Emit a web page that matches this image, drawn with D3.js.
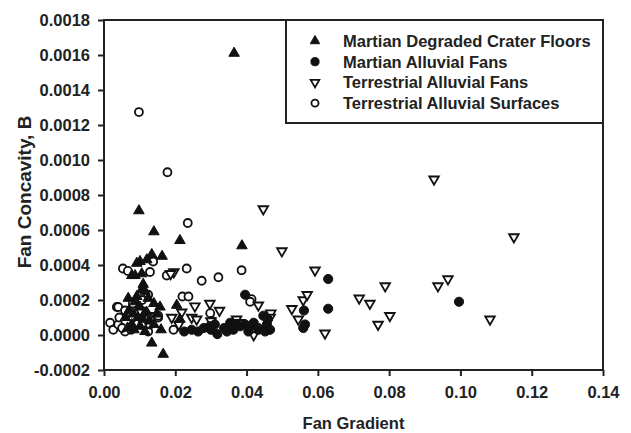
<!DOCTYPE html>
<html>
<head>
<meta charset="utf-8">
<script src="https://cdn.jsdelivr.net/npm/d3@7"></script>
<style>
  body { margin: 0; background: #fff; }
  text { font-family: "Liberation Sans", Arial, sans-serif; font-weight: bold; fill: #222; }
</style>
</head>
<body>
<div id="chart"></div>
<script>
// data: [fan gradient, concavity B]
var craterFloors = [
  [0.0365,0.00161],[0.0098,0.00071],[0.0140,0.00059],[0.0213,0.00054],[0.0387,0.00051],
  [0.0163,0.00045],[0.0134,0.00046],[0.0120,0.00043],[0.0101,0.00042],[0.0092,0.00041],
  [0.0078,0.00034],[0.0087,0.00034],[0.0106,0.00035],[0.0134,-0.000046],[0.0166,-0.00011],
  [0.0204,0.00017],[0.0213,0.00009],
  [0.0110,0.00029],[0.0106,0.00026],[0.0115,0.00025],[0.0092,0.00022],[0.0068,0.00021],
  [0.0124,0.00021],[0.0087,0.00019],[0.0157,0.00016],[0.0140,0.00018],[0.0101,0.00016],
  [0.0070,0.00014],[0.0120,0.00013],[0.0081,0.00012],[0.0148,0.00012],[0.0060,0.00010],
  [0.0095,0.00010],[0.0110,0.00009],[0.0128,0.00008],[0.0078,0.00006],[0.0101,0.00005],
  [0.0140,0.00006],[0.0084,0.00003],[0.0115,0.00002],[0.0066,0.00004],[0.0160,0.00003]
];
var martianFans = [
  [0.0396,0.00023],[0.0629,0.00032],[0.0629,0.00015],[0.0996,0.00019],[0.0561,0.00014],
  [0.0564,0.00006],[0.0559,0.00004],
  [0.0225,0.00002],[0.0246,0.00003],[0.0264,0.00002],[0.0280,0.00004],[0.0297,0.00005],
  [0.0311,0.00006],[0.0318,0.000005],[0.0337,0.00004],[0.0354,0.00007],[0.0363,0.00003],
  [0.0370,0.00006],[0.0382,0.00005],[0.0396,0.00006],[0.0410,0.00005],[0.0433,0.00003],
  [0.0447,0.00011],[0.0457,0.00006],[0.0466,0.00003],[0.0452,0.00002],[0.0300,0.00003],
  [0.0345,0.00002],[0.0405,0.00002],[0.0420,0.00007],[0.0460,0.00009]
];
var terrFans = [
  [0.0447,0.00072],[0.0926,0.00089],[0.1150,0.00056],[0.0499,0.00048],[0.0592,0.00037],
  [0.0196,0.00036],[0.0187,0.00035],[0.0297,0.00018],[0.0324,0.00014],[0.0255,0.000165],
  [0.0218,0.00013],[0.0190,0.00010],[0.0246,0.00010],[0.0260,0.00009],[0.0372,0.00009],
  [0.0382,0.00007],[0.0420,0.00000],[0.0433,0.00017],[0.0468,0.000125],[0.0466,0.00010],
  [0.0527,0.00015],[0.0545,0.00009],[0.0559,0.00020],[0.0570,0.00023],[0.0620,0.00001],
  [0.0716,0.00021],[0.0746,0.00018],[0.0789,0.00028],[0.0769,0.00006],[0.0802,0.00011],
  [0.0937,0.00028],[0.0965,0.00032],[0.1083,0.00009],[0.0101,0.00014],[0.0129,0.00011],
  [0.0210,0.00006],[0.0300,0.00008]
];
var terrSurfaces = [
  [0.0098,0.001274],[0.0178,0.00093],[0.0235,0.00064],[0.0053,0.00038],[0.0067,0.000366],
  [0.0129,0.00036],[0.0138,0.00042],[0.0232,0.00038],[0.0176,0.00034],[0.0274,0.00031],
  [0.0321,0.00033],[0.0386,0.00037],[0.0220,0.00022],[0.0237,0.00022],[0.0414,0.000205],
  [0.0298,0.000125],[0.0195,0.00003],[0.0017,0.00007],[0.0026,0.00003],[0.0040,0.00006],
  [0.0059,0.00002],[0.0036,0.00016],[0.0152,0.00010],[0.0124,0.00002],[0.0433,0.00004],
  [0.0303,0.00008],[0.0410,0.00019],
  [0.0040,0.00016],[0.0059,0.00014],[0.0081,0.00018],[0.0124,0.00023],[0.0107,0.00020],
  [0.0051,0.00004],[0.0076,0.00003],[0.0081,0.00010],[0.0112,0.00013],[0.0129,0.00006],
  [0.0152,0.00011],[0.0098,0.00014],[0.0043,0.00010]
];
var seriesNames = ["Martian Degraded Crater Floors", "Martian Alluvial Fans",
                   "Terrestrial Alluvial Fans", "Terrestrial Alluvial Surfaces"];
var xTicks = [0, 0.02, 0.04, 0.06, 0.08, 0.10, 0.12, 0.14];
var yTicks = [-0.0002, 0, 0.0002, 0.0004, 0.0006, 0.0008, 0.0010, 0.0012, 0.0014, 0.0016, 0.0018];

var W = 631, H = 433;
var margin = {top: 20, right: 28, bottom: 63, left: 104},
    width = W - margin.left - margin.right,
    height = H - margin.top - margin.bottom;

var x = d3.scaleLinear().domain([0, 0.14]).range([0, width]);
var y = d3.scaleLinear().domain([-0.0002, 0.0018]).range([height, 0]);

var svg = d3.select("#chart").append("svg")
    .attr("width", W)
    .attr("height", H)
  .append("g")
    .attr("transform", "translate(" + margin.left + "," + margin.top + ")");

// symbol per series: shape, filled, rotation
var styles = [
  {type: d3.symbolTriangle, size: 48, fill: "#111", rot: 0},
  {type: d3.symbolCircle, size: 66, fill: "#111", rot: 0},
  {type: d3.symbolTriangle, size: 40, fill: "#fff", rot: 180},
  {type: d3.symbolCircle, size: 50, fill: "#fff", rot: 0}
];
var allSeries = [craterFloors, martianFans, terrFans, terrSurfaces];

function drawSymbols(g, data, st) {
  g.selectAll("path")
    .data(data)
    .enter().append("path")
      .attr("d", d3.symbol().type(st.type).size(st.size))
      .attr("transform", function(d) {
        return "translate(" + x(d[0]) + "," + y(d[1]) + ") rotate(" + st.rot + ")";
      })
      .style("fill", st.fill)
      .style("stroke", "#111")
      .style("stroke-width", st.fill == "#fff" ? 1.8 : 1);
}

// draw order: open surfaces under, then fans, floors, martian fans
[3, 2, 0, 1].forEach(function(i) {
  drawSymbols(svg.append("g"), allSeries[i], styles[i]);
});

// frame
svg.append("rect")
  .attr("width", width).attr("height", height)
  .style("fill", "none").style("stroke", "#222").style("stroke-width", 2);

// axes (plain hyphen for the minus, like the original)
var fmtY = function(d) { return d3.format(".4f")(d).replace("\u2212", "-"); };
var xAxis = svg.append("g")
  .attr("transform", "translate(0," + height + ")")
  .call(d3.axisBottom(x).tickValues(xTicks).tickFormat(d3.format(".2f")).tickSize(6).tickPadding(10));
var yAxis = svg.append("g")
  .call(d3.axisLeft(y).tickValues(yTicks).tickFormat(fmtY).tickSize(6).tickPadding(8));
[xAxis, yAxis].forEach(function(a) {
  a.select(".domain").remove();
  a.selectAll("line").style("stroke", "#222").style("stroke-width", 2);
  a.selectAll("text").style("font-size", "16.5px").style("font-family", null);
});

// axis labels
svg.append("text")
  .attr("text-anchor", "middle")
  .attr("x", width / 2)
  .attr("y", height + 59)
  .style("font-size", "16.5px")
  .text("Fan Gradient");

svg.append("text")
  .attr("text-anchor", "middle")
  .attr("transform", "rotate(-90)")
  .attr("x", -(height / 2) + 3)
  .attr("y", 31 - margin.left)
  .style("font-size", "19px")
  .text("Fan Concavity, B");

// legend
var legend = svg.append("g").attr("transform", "translate(" + (width - 317) + ",0)");
legend.append("rect")
  .attr("width", 317).attr("height", 103)
  .style("fill", "#fff").style("stroke", "#222").style("stroke-width", 2);
seriesNames.forEach(function(name, i) {
  var row = legend.append("g").attr("transform", "translate(0," + (21 + i * 20.7) + ")");
  var st = styles[i];
  row.append("path")
    .attr("d", d3.symbol().type(st.type).size(st.size * 0.8))
    .attr("transform", "translate(29,0) rotate(" + st.rot + ")")
    .style("fill", st.fill).style("stroke", "#111")
    .style("stroke-width", st.fill == "#fff" ? 1.8 : 1);
  row.append("text")
    .attr("x", 57).attr("y", 6)
    .style("font-size", "16.5px")
    .text(name);
});
</script>
</body>
</html>
